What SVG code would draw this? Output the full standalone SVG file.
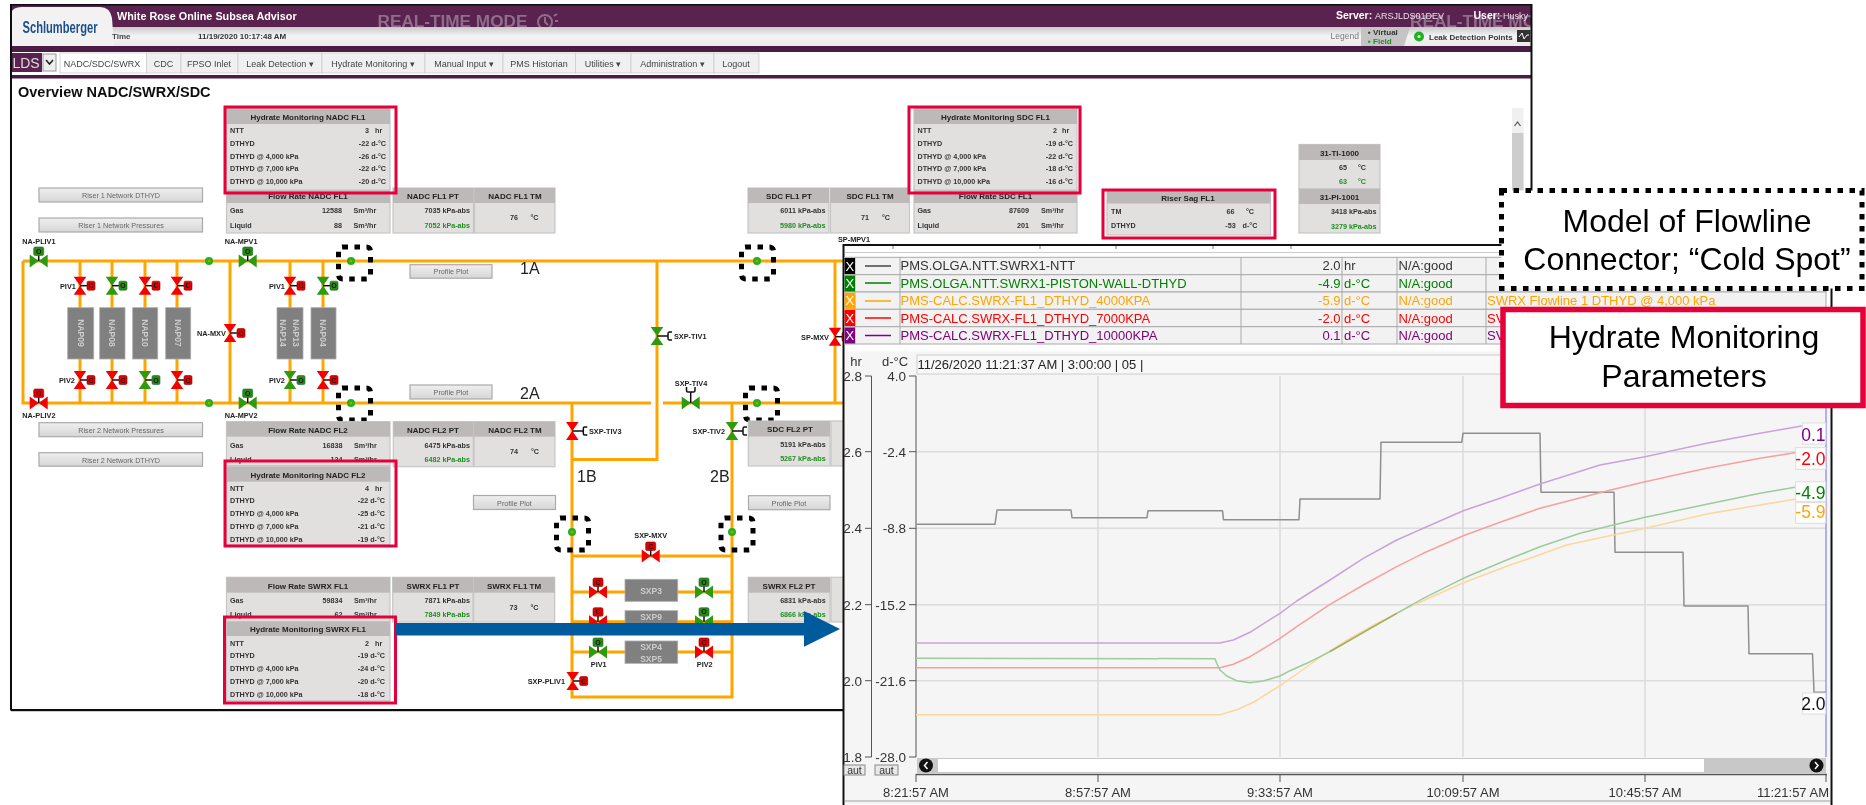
<svg xmlns="http://www.w3.org/2000/svg" width="1866" height="805" viewBox="0 0 1866 805">
<style>
text{font-family:"Liberation Sans",Arial,sans-serif}
.pipe{fill:none;stroke:#ffa500;stroke-width:3}
.dot{fill:#1fb31f}.doti{fill:#b89a00}
.cold{fill:none;stroke:#000;stroke-width:5;stroke-dasharray:5.5 6.5;stroke-linejoin:round}
.pb{fill:#e2dfdf;stroke:#c6c6c6;stroke-width:1.2}.ph{fill:#bdb9b9}
.pt{font-size:8px;font-weight:700;fill:#222;text-anchor:middle}
.pl{font-size:7.2px;font-weight:700;fill:#333}
.pr{font-size:7.2px;font-weight:700;fill:#333;text-anchor:end}
.pc{font-size:7.2px;font-weight:700;fill:#333;text-anchor:middle}
.pr.gr,.pc.gr{fill:#1f8f1f}
.frame{fill:none;stroke:#e6003a;stroke-width:3}
.btn{fill:url(#bg);stroke:#aaa;stroke-width:1.2}
.bt{font-size:7.2px;fill:#666;text-anchor:middle}
.box{fill:#808080;stroke:#aaa;stroke-width:.8}
.bx{font-size:8.5px;font-weight:700;fill:#ccc;text-anchor:middle}
.vn{font-size:7.3px;fill:#222;font-weight:700}
.vl{font-size:7px;font-weight:700;fill:#111;text-anchor:middle}
.big{font-size:16px;fill:#222}
.menu{font-size:9px;fill:#444;text-anchor:middle}
.tab{fill:#f0f0f0;stroke:#ccc;stroke-width:.8}
.row{fill:#f2f2f2;stroke:#aaa;stroke-width:1}
.t13{font-size:13px}
.ax{font-size:13.5px;fill:#333;text-anchor:end}
.tm{font-size:13px;fill:#333;text-anchor:middle}
.grid{stroke:#dcdcdc;stroke-width:1.6}
.crv{fill:none;stroke-width:1.5;stroke-linejoin:round}
.vb{fill:#fff;stroke:#ddd;stroke-width:1}
.vv{font-size:17.5px;text-anchor:end}
.call{font-size:32px;fill:#000;text-anchor:middle}
</style>
<defs>
<filter id="soft" x="0" y="0" width="100%" height="100%"><feGaussianBlur stdDeviation="0.4"/></filter>
<clipPath id="hc"><rect x="10" y="4" width="1522" height="24"/></clipPath>
<linearGradient id="bg" x1="0" y1="0" x2="0" y2="1"><stop offset="0" stop-color="#efefef"/><stop offset="1" stop-color="#d6d6d6"/></linearGradient>
<linearGradient id="hg" x1="0" y1="0" x2="0" y2="1"><stop offset="0" stop-color="#c9c9c9"/><stop offset=".45" stop-color="#f4f4f4"/><stop offset="1" stop-color="#e9e9e9"/></linearGradient>
<g id="vv-r"><path d="M-6.3-9H6.3L-6.3 9H6.3Z" fill="#f40000"/><path d="M0 0H8" stroke="#111" stroke-width="1.5"/><rect x="7" y="-4.5" width="8" height="9" rx="1.5" fill="#e00000" stroke="#800" stroke-width=".6"/></g>
<g id="vv-g"><path d="M-6.3-9H6.3L-6.3 9H6.3Z" fill="#2f9a10"/><path d="M0 0H8" stroke="#111" stroke-width="1.5"/><rect x="7" y="-4.5" width="8" height="9" rx="1.5" fill="#2c8a10" stroke="#164" stroke-width=".6"/></g>
<g id="vh-r"><path d="M-9-6.5V6.5L9-6.5V6.5Z" fill="#f40000"/><path d="M0 0V-7" stroke="#111" stroke-width="1.5"/><rect x="-5" y="-14" width="10" height="8.5" rx="1.5" fill="#e00000" stroke="#800" stroke-width=".6"/></g>
<g id="vh-g"><path d="M-9-6.5V6.5L9-6.5V6.5Z" fill="#2f9a10"/><path d="M0 0V-7" stroke="#111" stroke-width="1.5"/><rect x="-5" y="-14" width="10" height="8.5" rx="1.5" fill="#2c8a10" stroke="#164" stroke-width=".6"/></g>
<g id="cupr"><path d="M0 0H11M15-4H12.5Q11-4 11-2.5V2.5Q11 4 12.5 4H15" fill="none" stroke="#111" stroke-width="1.5"/></g>
</defs>
<rect width="1866" height="805" fill="#fff"/>

<g id="screenshot" filter="url(#soft)">
<g id="app-header">
<rect x="10" y="4" width="1522" height="24" fill="#5a2050"/>
<g clip-path="url(#hc)" fill="#8e6e8a">
<text x="377.5" y="27" font-size="17.2" font-weight="700">REAL-TIME MODE</text>
<text x="1410" y="27" font-size="17.2" font-weight="700">REAL-TIME MC</text>
</g>
<path d="M538 22a7 7 0 1 0 14 0a7 7 0 1 0 -14 0M545 17V22L548 25M554 16L557 14M555 21H558" fill="none" stroke="#8e6e8a" stroke-width="2"/>
<rect x="10" y="27" width="1522" height="20" fill="url(#hg)"/>
<rect x="10" y="46" width="1522" height="6" fill="#4d1c45"/>
<rect x="10" y="52" width="1522" height="23" fill="#fff"/>
<rect x="10" y="75" width="1522" height="3.5" fill="#4d1c45"/>
<path d="M10 46V18Q10 7 22 7H100Q110 7 112 18L114 46Z" fill="#f2f2f2"/>
<text x="22.5" y="33" font-size="16" font-weight="700" fill="#1c4f8c" textLength="75" lengthAdjust="spacingAndGlyphs">Schlumberger</text>
<text x="117" y="20" font-size="10.8" font-weight="700" fill="#fff">White Rose Online Subsea Advisor</text>
<text x="112" y="39" font-size="8" font-weight="700" fill="#444">Time</text>
<text x="198" y="39" font-size="8" font-weight="700" fill="#333">11/19/2020 10:17:48 AM</text>
<text x="1336" y="19" font-size="10.5" font-weight="700" fill="#fff">Server:</text>
<text x="1375" y="19" font-size="9" fill="#e8dce8">ARSJLDS01DEV</text>
<text x="1473.5" y="19" font-size="10.5" font-weight="700" fill="#fff">User:</text>
<text x="1503" y="19" font-size="9" fill="#e8dce8">Husky</text>
<text x="1330.5" y="39" font-size="8.5" fill="#777">Legend</text>
<path d="M1361 27H1410L1404 46H1361Z" fill="#c4c4c4"/>
<text x="1368" y="35" font-size="8" font-weight="700" fill="#333">▪ Virtual</text>
<text x="1368" y="44" font-size="8" font-weight="700" fill="#1f8f1f">▪ Field</text>
<circle cx="1419" cy="36.5" r="5" fill="#1fb31f"/><circle cx="1419" cy="36.5" r="1.5" fill="#fff"/>
<text x="1429" y="39.5" font-size="8" font-weight="700" fill="#333">Leak Detection Points</text>
<rect x="1517" y="30" width="13.5" height="12" fill="#333"/><path d="M1519 37L1522 33L1524 39L1527 35H1529" fill="none" stroke="#fff"/>
</g>

<g id="app-menu">
<rect x="10" y="53" width="32" height="19" fill="#5a2050"/><text x="26" y="68" font-size="14" fill="#ddd" text-anchor="middle">LDS</text>
<rect x="43" y="54" width="13" height="17" fill="#eee" stroke="#999"/><path d="M46 60L49.5 64L53 60" fill="none" stroke="#222" stroke-width="1.5"/>
<rect class="tab" x="60" y="53" width="86.5" height="20" style="fill:#fff"/><text class="menu" x="102" y="67">NADC/SDC/SWRX</text>
<rect class="tab" x="146.5" y="53" width="34.5" height="20"/><text class="menu" x="163.5" y="67">CDC</text>
<rect class="tab" x="181" y="53" width="57" height="20"/><text class="menu" x="209" y="67">FPSO Inlet</text>
<rect class="tab" x="238" y="53" width="84" height="20"/><text class="menu" x="280" y="67">Leak Detection ▾</text>
<rect class="tab" x="322" y="53" width="103" height="20"/><text class="menu" x="373" y="67">Hydrate Monitoring ▾</text>
<rect class="tab" x="425" y="53" width="78" height="20"/><text class="menu" x="464" y="67">Manual Input ▾</text>
<rect class="tab" x="503" y="53" width="72.5" height="20"/><text class="menu" x="539" y="67">PMS Historian</text>
<rect class="tab" x="575.5" y="53" width="55.5" height="20"/><text class="menu" x="603" y="67">Utilities ▾</text>
<rect class="tab" x="631" y="53" width="83" height="20"/><text class="menu" x="672.5" y="67">Administration ▾</text>
<rect class="tab" x="714" y="53" width="45" height="20"/><text class="menu" x="736" y="67">Logout</text>
</g>
<text id="page-title" x="18" y="96.5" font-size="14.5" font-weight="700" fill="#111">Overview NADC/SWRX/SDC</text>
<g id="scrollbar"><rect x="1512" y="108" width="11.5" height="90" fill="#f0f0f0"/><rect x="1512" y="133" width="11.5" height="65" fill="#cdcdcd"/><path d="M1514.5 126L1517.5 122L1520.5 126" fill="none" stroke="#555" stroke-width="1.2"/></g>

<g id="connectors">
<path class="pipe" d="M23 261H845M23 261V403H651M663 403H845M230 261V403M835 261V403M657 261V459.5H572M572 403V697H732V403"/>
<path class="pipe" d="M80 261V403M112 261V403M145 261V403M177 261V403M290 261V403M323 261V403"/>
<path class="pipe" d="M572 556H732M572 592H732M572 621.7H732M572 652H732"/>
</g>

<g id="node-dots">
<circle class="dot" cx="209" cy="261" r="4"/><circle class="doti" cx="209" cy="261" r="1.5"/>
<circle class="dot" cx="209" cy="403" r="4"/><circle class="doti" cx="209" cy="403" r="1.5"/>
<circle class="dot" cx="351" cy="261" r="4"/><circle class="doti" cx="351" cy="261" r="1.5"/>
<circle class="dot" cx="351" cy="403" r="4"/><circle class="doti" cx="351" cy="403" r="1.5"/>
<circle class="dot" cx="757" cy="261" r="4"/><circle class="doti" cx="757" cy="261" r="1.5"/>
<circle class="dot" cx="757" cy="403" r="4"/><circle class="doti" cx="757" cy="403" r="1.5"/>
<circle class="dot" cx="572" cy="532" r="4"/><circle class="doti" cx="572" cy="532" r="1.5"/>
<circle class="dot" cx="732" cy="532" r="4"/><circle class="doti" cx="732" cy="532" r="1.5"/>
</g>
<g id="cold-spots">
<rect class="cold" x="338.5" y="247" width="32" height="32" rx="4"/>
<rect class="cold" x="338.5" y="388" width="32" height="32" rx="4"/>
<rect class="cold" x="741.5" y="247" width="32" height="32" rx="4"/>
<rect class="cold" x="745.5" y="388" width="32" height="32" rx="4"/>
<rect class="cold" x="556.5" y="518" width="32" height="32" rx="4"/>
<rect class="cold" x="721" y="518" width="32" height="32" rx="4"/>
</g>

<g id="labels-flow">
<text class="big" x="520" y="274">1A</text><text class="big" x="520" y="399">2A</text>
<text class="big" x="577" y="481.5">1B</text><text class="big" x="710" y="481.5">2B</text>
</g>

<g id="nap-boxes">
<rect class="box" x="67.7" y="307.7" width="26" height="51.3"/><text class="bx" transform="translate(77.5 333) rotate(90)">NAP09</text>
<rect class="box" x="99.7" y="307.7" width="25.3" height="51.3"/><text class="bx" transform="translate(109.3 333) rotate(90)">NAP08</text>
<rect class="box" x="132.7" y="307.7" width="25" height="51.3"/><text class="bx" transform="translate(141.7 333) rotate(90)">NAP10</text>
<rect class="box" x="165.7" y="307.7" width="25" height="51.3"/><text class="bx" transform="translate(174.5 333) rotate(90)">NAP07</text>
<rect class="box" x="277" y="307.7" width="26" height="51.3"/><text class="bx" transform="translate(292.5 333) rotate(90)">NAP13</text><text class="bx" transform="translate(280 333) rotate(90)">NAP14</text>
<rect class="box" x="311" y="307.7" width="25" height="51.3"/><text class="bx" transform="translate(320.3 333) rotate(90)">NAP04</text>
<rect class="box" x="625" y="579.3" width="52.7" height="22"/><text class="bx" x="651" y="594">SXP3</text>
<rect class="box" x="625" y="610.7" width="52.7" height="22"/><text class="bx" x="651" y="619.5">SXP9</text>
<rect class="box" x="625" y="641" width="52.7" height="22.3"/><text class="bx" x="651" y="650">SXP4</text><text class="bx" x="651" y="662">SXP5</text>
</g>

<g id="valve-na-pliv1"><use href="#vh-g" x="38.7" y="261"/><text class="vl" x="38.7" y="253.5">O</text><text class="vn" x="22.3" y="243.5">NA-PLIV1</text></g>
<g id="valve-na-pliv2"><use href="#vh-r" x="38.7" y="403"/><text class="vl" x="38.7" y="395.5">C</text><text class="vn" x="22.3" y="418">NA-PLIV2</text></g>
<g id="valve-na-mpv1"><use href="#vh-g" x="247.7" y="261"/><text class="vl" x="247.7" y="253.5">O</text><text class="vn" x="224.7" y="243.5">NA-MPV1</text></g>
<g id="valve-na-mpv2"><use href="#vh-g" x="247.7" y="403"/><text class="vl" x="247.7" y="395.5">O</text><text class="vn" x="224.7" y="418">NA-MPV2</text></g>
<g id="valve-na-mxv"><use href="#vv-r" x="230" y="333"/><text class="vl" x="241" y="335.5">C</text><text class="vn" x="197" y="336">NA-MXV</text></g>
<g id="valve-u1"><use href="#vv-r" x="80" y="285.7"/><text class="vl" x="91" y="288.2">C</text><text class="vn" x="60" y="288.5">PIV1</text></g>
<g id="valve-u2"><use href="#vv-g" x="112" y="285.7"/><text class="vl" x="123" y="288.2">O</text></g>
<g id="valve-u3"><use href="#vv-r" x="145" y="285.7"/><text class="vl" x="156" y="288.2">C</text></g>
<g id="valve-u4"><use href="#vv-r" x="177" y="285.7"/><text class="vl" x="188" y="288.2">C</text></g>
<g id="valve-u5"><use href="#vv-r" x="290" y="285.7"/><text class="vl" x="301" y="288.2">C</text><text class="vn" x="269" y="288.5">PIV1</text></g>
<g id="valve-u6"><use href="#vv-g" x="323" y="285.7"/><text class="vl" x="334" y="288.2">O</text></g>
<g id="valve-l1"><use href="#vv-r" x="80" y="380"/><text class="vl" x="91" y="382.5">C</text><text class="vn" x="59" y="383">PIV2</text></g>
<g id="valve-l2"><use href="#vv-r" x="112" y="380"/><text class="vl" x="123" y="382.5">C</text></g>
<g id="valve-l3"><use href="#vv-g" x="145" y="380"/><text class="vl" x="156" y="382.5">O</text></g>
<g id="valve-l4"><use href="#vv-r" x="177" y="380"/><text class="vl" x="188" y="382.5">C</text></g>
<g id="valve-l5"><use href="#vv-g" x="290" y="380"/><text class="vl" x="301" y="382.5">O</text><text class="vn" x="269" y="383">PIV2</text></g>
<g id="valve-l6"><use href="#vv-r" x="323" y="380"/><text class="vl" x="334" y="382.5">C</text></g>
<g id="valve-sxp-tiv1"><path d="M650.7 327H663.3L650.7 345H663.3Z" fill="#2f9a10"/><use href="#cupr" x="657" y="336"/><text class="vn" x="674" y="338.5">SXP-TIV1</text></g>
<g id="valve-sxp-tiv3"><path d="M566 422H578.6L566 440H578.6Z" fill="#f40000"/><use href="#cupr" x="572.3" y="431"/><text class="vn" x="589" y="433.5">SXP-TIV3</text></g>
<g id="valve-sxp-tiv2"><path d="M725.7 422H738.3L725.7 440H738.3Z" fill="#2f9a10"/><use href="#cupr" x="732" y="431"/><text class="vn" x="725" y="433.5" text-anchor="end">SXP-TIV2</text></g>
<g id="valve-sxp-tiv4"><path d="M681.7 396.5V409.5L699.7 396.5V409.5Z" fill="#2f9a10"/><path d="M690.7 403V392M686.5 387V390.5Q686.5 392 688 392H693.5Q695 392 695 390.5V387" fill="none" stroke="#111" stroke-width="1.5"/><text class="vn" x="691" y="386" text-anchor="middle">SXP-TIV4</text></g>
<g id="valve-sp-mxv"><use href="#vv-r" x="835" y="336.7"/><text class="vn" x="829" y="339.5" text-anchor="end">SP-MXV</text></g>
<text id="label-sp-mpv1" class="vn" x="838" y="242">SP-MPV1</text>
<g id="valve-sxp-mxv"><use href="#vh-r" x="650.7" y="556"/><text class="vl" x="650.7" y="548.5">C</text><text class="vn" x="650.7" y="537.5" text-anchor="middle">SXP-MXV</text></g>
<g id="valve-s1"><use href="#vh-r" x="598" y="592"/><text class="vl" x="598" y="584.5">C</text></g>
<g id="valve-s2"><use href="#vh-g" x="704" y="592"/><text class="vl" x="704" y="584.5">O</text></g>
<g id="valve-s3"><use href="#vh-r" x="598" y="621.7"/><text class="vl" x="598" y="614.2">C</text></g>
<g id="valve-s4"><use href="#vh-g" x="704" y="621.7"/><text class="vl" x="704" y="614.2">O</text></g>
<g id="valve-s5"><use href="#vh-g" x="598" y="652"/><text class="vl" x="598" y="644.5">O</text><text class="vn" x="598.7" y="666.5" text-anchor="middle">PIV1</text></g>
<g id="valve-s6"><use href="#vh-r" x="704" y="652"/><text class="vl" x="704" y="644.5">C</text><text class="vn" x="704.7" y="666.5" text-anchor="middle">PIV2</text></g>
<g id="valve-sxp-pliv1"><use href="#vv-r" x="572.7" y="681"/><text class="vl" x="583.7" y="683.5">C</text><text class="vn" x="565" y="683.5" text-anchor="end">SXP-PLIV1</text></g>

<g id="buttons">
<rect class="btn" x="39" y="188" width="163.5" height="14"/><text class="bt" x="121" y="198">Riser 1 Network DTHYD</text>
<rect class="btn" x="39" y="218" width="163.5" height="14"/><text class="bt" x="121" y="228">Riser 1 Network Pressures</text>
<rect class="btn" x="39" y="422.7" width="163.5" height="14"/><text class="bt" x="121" y="432.5">Riser 2 Network Pressures</text>
<rect class="btn" x="39" y="452.7" width="163.5" height="13.5"/><text class="bt" x="121" y="462.5">Riser 2 Network DTHYD</text>
<rect class="btn" x="410" y="264.7" width="82" height="13.5"/><text class="bt" x="451" y="274">Profile Plot</text>
<rect class="btn" x="410" y="385" width="82" height="14"/><text class="bt" x="451" y="395">Profile Plot</text>
<rect class="btn" x="473.5" y="495.5" width="82" height="14"/><text class="bt" x="514.5" y="505.5">Profile Plot</text>
<rect class="btn" x="748.5" y="495.7" width="81.5" height="14"/><text class="bt" x="789" y="505.7">Profile Plot</text>
</g>

<g id="flow-nadc-fl1">
<rect class="pb" x="226.5" y="188" width="163.5" height="45"/><rect class="ph" x="226.5" y="188" width="163.5" height="15"/>
<text class="pt" x="308" y="199">Flow Rate NADC FL1</text>
<text class="pl" x="230" y="213">Gas</text><text class="pr" x="342" y="213">12588</text><text class="pl" x="353.5" y="213">Sm³/hr</text>
<text class="pl" x="230" y="228">Liquid</text><text class="pr" x="342" y="228">88</text><text class="pl" x="353.5" y="228">Sm³/hr</text>
</g>
<g id="pt-nadc-fl1">
<rect class="pb" x="393" y="188" width="80.5" height="45"/><rect class="ph" x="393" y="188" width="80.5" height="15"/>
<text class="pt" x="433" y="199">NADC FL1 PT</text>
<text class="pr" x="470" y="213">7035 kPa-abs</text><text class="pr gr" x="470" y="228">7052 kPa-abs</text>
</g>
<g id="tm-nadc-fl1">
<rect class="pb" x="474.5" y="188" width="80.5" height="45"/><rect class="ph" x="474.5" y="188" width="80.5" height="15"/>
<text class="pt" x="515" y="199">NADC FL1 TM</text>
<text class="pc" x="514" y="220">76</text><text class="pc" x="534.5" y="220">°C</text>
</g>
<g id="hyd-nadc-fl1">
<rect class="pb" x="226.5" y="108" width="163.5" height="82"/><rect class="ph" x="226.5" y="108" width="163.5" height="16"/>
<text class="pt" x="308" y="120">Hydrate Monitoring NADC FL1</text>
<text class="pl" x="230" y="133">NTT</text><text class="pc" x="367" y="133">3</text><text class="pl" x="375" y="133">hr</text>
<text class="pl" x="230" y="146">DTHYD</text><text class="pr" x="386" y="146">-22 d-°C</text>
<text class="pl" x="230" y="159">DTHYD @ 4,000 kPa</text><text class="pr" x="386" y="159">-26 d-°C</text>
<text class="pl" x="230" y="171">DTHYD @ 7,000 kPa</text><text class="pr" x="386" y="171">-22 d-°C</text>
<text class="pl" x="230" y="184">DTHYD @ 10,000 kPa</text><text class="pr" x="386" y="184">-20 d-°C</text>
<rect class="frame" x="225" y="107" width="171" height="86"/>
</g>

<g id="pt-sdc-fl1">
<rect class="pb" x="748" y="188" width="81" height="45"/><rect class="ph" x="748" y="188" width="81" height="15"/>
<text class="pt" x="789" y="199">SDC FL1 PT</text>
<text class="pr" x="825.5" y="213">6011 kPa-abs</text><text class="pr gr" x="825.5" y="228">5980 kPa-abs</text>
</g>
<g id="tm-sdc-fl1">
<rect class="pb" x="830.5" y="188" width="79" height="45"/><rect class="ph" x="830.5" y="188" width="79" height="15"/>
<text class="pt" x="870" y="199">SDC FL1 TM</text>
<text class="pc" x="865" y="220">71</text><text class="pc" x="886" y="220">°C</text>
</g>
<g id="flow-sdc-fl1">
<rect class="pb" x="914" y="188" width="163" height="45"/><rect class="ph" x="914" y="188" width="163" height="15"/>
<text class="pt" x="995.5" y="199">Flow Rate SDC FL1</text>
<text class="pl" x="917.5" y="213">Gas</text><text class="pr" x="1029" y="213">87609</text><text class="pl" x="1041" y="213">Sm³/hr</text>
<text class="pl" x="917.5" y="228">Liquid</text><text class="pr" x="1029" y="228">201</text><text class="pl" x="1041" y="228">Sm³/hr</text>
</g>
<g id="hyd-sdc-fl1">
<rect class="pb" x="914" y="108" width="163" height="82"/><rect class="ph" x="914" y="108" width="163" height="16"/>
<text class="pt" x="995.5" y="120">Hydrate Monitoring SDC FL1</text>
<text class="pl" x="917.5" y="133">NTT</text><text class="pc" x="1055" y="133">2</text><text class="pl" x="1062" y="133">hr</text>
<text class="pl" x="917.5" y="146">DTHYD</text><text class="pr" x="1073" y="146">-19 d-°C</text>
<text class="pl" x="917.5" y="159">DTHYD @ 4,000 kPa</text><text class="pr" x="1073" y="159">-22 d-°C</text>
<text class="pl" x="917.5" y="171">DTHYD @ 7,000 kPa</text><text class="pr" x="1073" y="171">-18 d-°C</text>
<text class="pl" x="917.5" y="184">DTHYD @ 10,000 kPa</text><text class="pr" x="1073" y="184">-16 d-°C</text>
<rect class="frame" x="909" y="107" width="171" height="86"/>
</g>
<g id="riser-sag-fl1">
<rect class="pb" x="1107" y="191.5" width="163.5" height="43.5"/><rect class="ph" x="1107" y="191.5" width="163.5" height="12"/>
<text class="pt" x="1188" y="201">Riser Sag FL1</text>
<text class="pl" x="1111" y="213.5">TM</text><text class="pc" x="1230.5" y="213.5">66</text><text class="pc" x="1250" y="213.5">°C</text>
<text class="pl" x="1111" y="228">DTHYD</text><text class="pc" x="1230.5" y="228">-53</text><text class="pc" x="1250" y="228">d-°C</text>
<rect class="frame" x="1103" y="190" width="172" height="48"/>
</g>
<g id="ti-1000">
<rect class="pb" x="1299" y="144.5" width="81" height="44.5"/><rect class="ph" x="1299" y="144.5" width="81" height="15.5"/>
<text class="pt" x="1339.5" y="155.5">31-TI-1000</text>
<text class="pc" x="1343" y="169.5">65</text><text class="pc" x="1362" y="169.5">°C</text>
<text class="pc gr" x="1343" y="184">63</text><text class="pc gr" x="1362" y="184">°C</text>
</g>
<g id="pi-1001">
<rect class="pb" x="1299" y="189" width="81" height="44"/><rect class="ph" x="1299" y="189" width="81" height="15"/>
<text class="pt" x="1339.5" y="200">31-PI-1001</text>
<text class="pr" x="1376.5" y="214">3418 kPa-abs</text><text class="pr gr" x="1376.5" y="228.5">3279 kPa-abs</text>
</g>

<g id="flow-nadc-fl2">
<rect class="pb" x="226.5" y="421.7" width="163.5" height="44"/><rect class="ph" x="226.5" y="421.7" width="163.5" height="15"/>
<text class="pt" x="308" y="432.7">Flow Rate NADC FL2</text>
<text class="pl" x="230" y="447.5">Gas</text><text class="pr" x="342.5" y="447.5">16838</text><text class="pl" x="354" y="447.5">Sm³/hr</text>
<text class="pl" x="230" y="462">Liquid</text><text class="pr" x="342.5" y="462">124</text><text class="pl" x="354" y="462">Sm³/hr</text>
</g>
<g id="pt-nadc-fl2">
<rect class="pb" x="393.3" y="421.7" width="80" height="45"/><rect class="ph" x="393.3" y="421.7" width="80" height="15"/>
<text class="pt" x="433" y="432.7">NADC FL2 PT</text>
<text class="pr" x="470" y="447.5">6475 kPa-abs</text><text class="pr gr" x="470" y="462">6482 kPa-abs</text>
</g>
<g id="tm-nadc-fl2">
<rect class="pb" x="474" y="421.7" width="81" height="45"/><rect class="ph" x="474" y="421.7" width="81" height="15"/>
<text class="pt" x="515" y="432.7">NADC FL2 TM</text>
<text class="pc" x="514" y="454">74</text><text class="pc" x="535" y="454">°C</text>
</g>
<g id="hyd-nadc-fl2">
<rect class="pb" x="226.5" y="466.7" width="163.5" height="78.3"/><rect class="ph" x="226.5" y="466.7" width="163.5" height="15"/>
<text class="pt" x="308" y="477.5">Hydrate Monitoring NADC FL2</text>
<text class="pl" x="230" y="490.7">NTT</text><text class="pc" x="367" y="490.7">4</text><text class="pl" x="375" y="490.7">hr</text>
<text class="pl" x="230" y="503.3">DTHYD</text><text class="pr" x="385" y="503.3">-22 d-°C</text>
<text class="pl" x="230" y="516.3">DTHYD @ 4,000 kPa</text><text class="pr" x="385" y="516.3">-25 d-°C</text>
<text class="pl" x="230" y="529">DTHYD @ 7,000 kPa</text><text class="pr" x="385" y="529">-21 d-°C</text>
<text class="pl" x="230" y="542">DTHYD @ 10,000 kPa</text><text class="pr" x="385" y="542">-19 d-°C</text>
<rect class="frame" x="225" y="461" width="171" height="85"/>
</g>
<g id="pt-sdc-fl2">
<rect class="pb" x="748.3" y="421" width="81.7" height="45"/><rect class="ph" x="748.3" y="421" width="81.7" height="15.5"/>
<text class="pt" x="790" y="432">SDC FL2 PT</text>
<text class="pr" x="825.7" y="446.5">5191 kPa-abs</text><text class="pr gr" x="825.7" y="461">5267 kPa-abs</text>
</g>
<rect id="tm-sdc-fl2" class="pb" x="831" y="421" width="15" height="45"/>

<g id="flow-swrx-fl1">
<rect class="pb" x="226.5" y="577.3" width="163.5" height="44.5"/><rect class="ph" x="226.5" y="577.3" width="163.5" height="15.4"/>
<text class="pt" x="308" y="588.5">Flow Rate SWRX FL1</text>
<text class="pl" x="230" y="602.5">Gas</text><text class="pr" x="342.5" y="602.5">59834</text><text class="pl" x="354" y="602.5">Sm³/hr</text>
<text class="pl" x="230" y="617">Liquid</text><text class="pr" x="342.5" y="617">62</text><text class="pl" x="354" y="617">Sm³/hr</text>
</g>
<g id="pt-swrx-fl1">
<rect class="pb" x="392.7" y="577.3" width="80.3" height="44.7"/><rect class="ph" x="392.7" y="577.3" width="80.3" height="15.4"/>
<text class="pt" x="433" y="588.5">SWRX FL1 PT</text>
<text class="pr" x="470" y="603">7871 kPa-abs</text><text class="pr gr" x="470" y="617">7849 kPa-abs</text>
</g>
<g id="tm-swrx-fl1">
<rect class="pb" x="473.7" y="577.3" width="81" height="44.7"/><rect class="ph" x="473.7" y="577.3" width="81" height="15.4"/>
<text class="pt" x="514" y="588.5">SWRX FL1 TM</text>
<text class="pc" x="513.5" y="609.5">73</text><text class="pc" x="534.5" y="609.5">°C</text>
</g>
<g id="hyd-swrx-fl1">
<rect class="pb" x="226.5" y="621.7" width="163.5" height="79"/><rect class="ph" x="226.5" y="621.7" width="163.5" height="14.3"/>
<text class="pt" x="308" y="632">Hydrate Monitoring SWRX FL1</text>
<text class="pl" x="230" y="645.7">NTT</text><text class="pc" x="367" y="645.7">2</text><text class="pl" x="375" y="645.7">hr</text>
<text class="pl" x="230" y="658.3">DTHYD</text><text class="pr" x="385" y="658.3">-19 d-°C</text>
<text class="pl" x="230" y="671.3">DTHYD @ 4,000 kPa</text><text class="pr" x="385" y="671.3">-24 d-°C</text>
<text class="pl" x="230" y="684">DTHYD @ 7,000 kPa</text><text class="pr" x="385" y="684">-20 d-°C</text>
<text class="pl" x="230" y="696.7">DTHYD @ 10,000 kPa</text><text class="pr" x="385" y="696.7">-18 d-°C</text>
<rect class="frame" x="224.5" y="617" width="171" height="86"/>
</g>
<g id="pt-swrx-fl2">
<rect class="pb" x="748.3" y="577.3" width="81.7" height="44.7"/><rect class="ph" x="748.3" y="577.3" width="81.7" height="15.4"/>
<text class="pt" x="789" y="588.5">SWRX FL2 PT</text>
<text class="pr" x="825.7" y="603">6831 kPa-abs</text><text class="pr gr" x="825.7" y="617">6866 kPa-abs</text>
</g>
<rect id="tm-swrx-fl2" class="pb" x="831" y="577.3" width="15" height="44.7"/>

<path id="window-frame" d="M11 710.5V4.5H1531.5V200M11 710H845" fill="none" stroke="#111" stroke-width="2"/>
<path id="window-frame-low" d="M11 712H845" fill="none" stroke="#999" stroke-width="1"/>
</g>

<polygon id="arrow" points="395.7,623 804,623 804,611 840,629 804,646.7 804,635.5 395.7,635.5" fill="#005a9e"/>

<g id="chart-panel">
<rect x="843.5" y="245" width="988" height="570" fill="#fff" stroke="#111" stroke-width="2"/>
<path d="M893 246V249M1040 246V249M1116 246V249M1213 246V249M1291 246V249" stroke="#777"/>
<path d="M845 252.5H1830" stroke="#ccc"/>
<rect x="845" y="351.5" width="985" height="453" fill="#f5f5f5"/>
<path d="M845 801H1830" stroke="#bbb" stroke-width="1.5"/>

<g id="trend-table">
<rect class="row" x="844.5" y="257.3" width="981.5" height="17.4"/>
<rect class="row" x="844.5" y="274.7" width="981.5" height="17.3"/>
<rect class="row" x="844.5" y="292" width="981.5" height="17.3"/>
<rect class="row" x="844.5" y="309.3" width="981.5" height="17.4"/>
<rect class="row" x="844.5" y="326.7" width="981.5" height="17.3"/>
<path d="M855 257V344M900 257V344M1241 257V344M1342 257V344M1397 257V344M1486 257V344" stroke="#aaa" fill="none"/>
<rect x="844.5" y="258" width="10.5" height="16" fill="#000"/><rect x="844.5" y="275.5" width="10.5" height="16" fill="#008000"/><rect x="844.5" y="292.8" width="10.5" height="16" fill="#ffa500"/><rect x="844.5" y="310" width="10.5" height="16" fill="#f00"/><rect x="844.5" y="327.5" width="10.5" height="16" fill="#800080"/>
<text class="t13" x="845.5" y="270.5" fill="#fff">X</text><text class="t13" x="845.5" y="288" fill="#fff">X</text><text class="t13" x="845.5" y="305" fill="#fff">X</text><text class="t13" x="845.5" y="322.5" fill="#fff">X</text><text class="t13" x="845.5" y="340" fill="#fff">X</text>
<path d="M865 266H891" stroke="#444" stroke-width="1.5"/><path d="M865 283H891" stroke="#008000" stroke-width="1.5"/><path d="M865 301H891" stroke="#ffa500" stroke-width="1.5"/><path d="M865 318H891" stroke="#f00" stroke-width="1.5"/><path d="M865 335.5H891" stroke="#800080" stroke-width="1.5"/>
<g class="t13" fill="#333"><text x="900.5" y="270">PMS.OLGA.NTT.SWRX1-NTT</text><text x="1340.5" y="270" text-anchor="end">2.0</text><text x="1344" y="270">hr</text><text x="1398.5" y="270">N/A:good</text></g>
<g class="t13" fill="#008000"><text x="900.5" y="287.5">PMS.OLGA.NTT.SWRX1-PISTON-WALL-DTHYD</text><text x="1340.5" y="287.5" text-anchor="end">-4.9</text><text x="1344" y="287.5">d-°C</text><text x="1398.5" y="287.5">N/A:good</text></g>
<g class="t13" fill="#ffa500"><text x="900.5" y="305">PMS-CALC.SWRX-FL1_DTHYD_4000KPA</text><text x="1340.5" y="305" text-anchor="end">-5.9</text><text x="1344" y="305">d-°C</text><text x="1398.5" y="305">N/A:good</text><text x="1487" y="305">SWRX Flowline 1 DTHYD @ 4,000 kPa</text></g>
<g class="t13" fill="#f00"><text x="900.5" y="322.5">PMS-CALC.SWRX-FL1_DTHYD_7000KPA</text><text x="1340.5" y="322.5" text-anchor="end">-2.0</text><text x="1344" y="322.5">d-°C</text><text x="1398.5" y="322.5">N/A:good</text><text x="1487" y="322.5">SV</text></g>
<g class="t13" fill="#800080"><text x="900.5" y="340">PMS-CALC.SWRX-FL1_DTHYD_10000KPA</text><text x="1340.5" y="340" text-anchor="end">0.1</text><text x="1344" y="340">d-°C</text><text x="1398.5" y="340">N/A:good</text><text x="1487" y="340">SV</text></g>
</g>

<g id="trend-chart">
<text x="856" y="365.5" font-size="13" fill="#333" text-anchor="middle">hr</text><text x="895" y="365.5" font-size="13" fill="#333" text-anchor="middle">d-°C</text>
<rect x="917" y="355" width="905" height="19" fill="#f8f8f8" stroke="#ccc"/>
<text x="917.5" y="369" font-size="13" fill="#222">11/26/2020 11:21:37 AM | 3:00:00 | 05 |</text>
<path class="grid" d="M916 451.7H1826M916 528.3H1826M916 604.7H1826M916 680.7H1826M1098 376V757M1280 376V757M1463 376V757M1645 376V757" fill="none"/>
<path d="M871.5 376V757M916 376V757" stroke="#555" fill="none"/>
<path d="M865 376H871.5M865 451.7H871.5M865 528.3H871.5M865 604.7H871.5M865 680.7H871.5M865 757H871.5M909 376H916M909 451.7H916M909 528.3H916M909 604.7H916M909 680.7H916M909 757H916" stroke="#555" fill="none"/>
<text class="ax" x="862" y="380.5">2.8</text><text class="ax" x="862" y="456.5">2.6</text><text class="ax" x="862" y="533">2.4</text><text class="ax" x="862" y="609.5">2.2</text><text class="ax" x="862" y="685.5">2.0</text><text class="ax" x="862" y="761.5">1.8</text>
<text class="ax" x="906" y="380.5">4.0</text><text class="ax" x="906" y="456.5">-2.4</text><text class="ax" x="906" y="533">-8.8</text><text class="ax" x="906" y="609.5">-15.2</text><text class="ax" x="906" y="685.5">-21.6</text><text class="ax" x="906" y="761.5">-28.0</text>
<polyline class="crv" stroke="#8f8f8f" points="916,524.3 995,524.3 997,510 1071,510 1072,517.7 1147,517.7 1148,510.7 1222.500,510.7 1223.500,519.7 1299,519.7 1300,499 1380,499 1381,442.3 1461.700,442.3 1463,433.3 1540,433.3 1541,492.3 1614,492.3 1615,552.3 1683,552.3 1684,606 1748,606 1749,653.7 1812.500,653.7 1814,692.3 1826,692.3"/>
<polyline class="crv" stroke="#c9a3d9" points="916,643 1220,643 1233.3,640 1250,632.3 1266.7,621.7 1280,613.3 1296.7,601 1330,580 1363.3,558.3 1396.7,540 1423.3,528.3 1463.3,510.7 1500,498.300 1540,484 1600,465 1645,456.7 1706.7,443.3 1760,433.3 1801.7,426"/>
<polyline class="crv" stroke="#f6a0a0" points="916,667.7 1220,667.7 1233.3,664.3 1250,656.7 1266.7,646.7 1280,638.3 1296.7,626.7 1330,604.3 1363.3,585 1396.7,566.7 1423.3,553.3 1463.3,535.7 1500,522.3 1540,508.3 1606.7,491 1645,481.7 1706.7,468.3 1760,458.3 1795,452.7"/>
<polyline class="crv" stroke="#fbd79c" points="916,714.7 1220,714.7 1238.3,709.3 1253.3,702.3 1266.7,694 1280,685.7 1296.7,674 1323.3,655 1350,638.3 1376.7,623.3 1410,606.7 1423.3,600.7 1463.3,582.7 1510,565 1525,560 1566.7,545 1613.3,535 1645,528.3 1706.7,514 1760,505 1795,499.3"/>
<polyline class="crv" stroke="#9ccb9c" points="916,658.3 1215,658.7 1216.7,663.3 1220,670 1226.7,676 1236.7,680.7 1250,682.7 1263.3,681 1280,676 1290,670.7 1306.7,663.3 1330,651.7 1363.3,632.3 1396.7,613.3 1423.3,598.3 1463.3,578.3 1506.7,560 1540,546.7 1580,533.3 1613.3,525 1645,517.3 1706.7,504.3 1760,493.3 1795,487.3"/>
<polyline class="crv" stroke="#a9b060" points="1330,651.7 1363.3,632.3 1396.7,613.3"/>
<path d="M1826 376V757" stroke="#6a6aee"/>
<rect class="vb" x="1802.7" y="423" width="23" height="21"/><text class="vv" x="1825.5" y="440.7" fill="#800080">0.1</text>
<rect class="vb" x="1795.7" y="447.7" width="30" height="21.600"/><text class="vv" x="1825.5" y="465" fill="#f00">-2.0</text>
<rect class="vb" x="1795.7" y="481.7" width="30" height="20"/><text class="vv" x="1825.5" y="499.3" fill="#008000">-4.9</text>
<rect class="vb" x="1795.7" y="502.700" width="30" height="20.6"/><text class="vv" x="1825.5" y="518.3" fill="#ffa500">-5.9</text>
<rect class="vb" x="1802.7" y="693" width="23" height="21"/><text class="vv" x="1825.5" y="709.5" fill="#111">2.0</text>
<rect x="917" y="758" width="909" height="15" fill="#c8c8c8"/><rect x="938" y="759" width="766" height="13" fill="#fff"/>
<circle cx="926" cy="765.5" r="7" fill="#111"/><circle cx="1816.5" cy="765.5" r="7" fill="#111"/>
<path d="M927.5 762L924.5 765.5L927.5 769" fill="none" stroke="#fff" stroke-width="1.5"/><path d="M1815 762L1818 765.500L1815 769" fill="none" stroke="#fff" stroke-width="1.5"/>
<rect x="844" y="765" width="21" height="10" fill="#e8e8e8" stroke="#888"/><text x="854.5" y="774" font-size="10.5" fill="#333" text-anchor="middle">aut</text>
<rect x="875" y="765" width="23" height="10" fill="#e8e8e8" stroke="#888"/><text x="886.5" y="774" font-size="10.5" fill="#333" text-anchor="middle">aut</text>
<path d="M916 774.5H1827" stroke="#555" stroke-width="1.5"/>
<path d="M916 774V782M1098 774V782M1280 774V782M1463 774V782M1645 774V782M1826 774V782" stroke="#555"/>
<text class="tm" x="916" y="797">8:21:57 AM</text><text class="tm" x="1098" y="797">8:57:57 AM</text><text class="tm" x="1280" y="797">9:33:57 AM</text><text class="tm" x="1463" y="797">10:09:57 AM</text><text class="tm" x="1645" y="797">10:45:57 AM</text><text class="tm" x="1829" y="797" style="text-anchor:end">11:21:57 AM</text>
</g>
</g>

<g id="callout-cold-spot">
<rect x="1501.5" y="190.5" width="360.5" height="98" fill="#fff" stroke="#000" stroke-width="5" stroke-dasharray="5.5 6.5"/>
<text class="call" x="1687" y="231.5">Model of Flowline</text>
<text class="call" x="1687" y="270">Connector; “Cold Spot”</text>
</g>
<g id="callout-hydrate">
<rect x="1503" y="309.5" width="360" height="96" fill="#fff" stroke="#e6003a" stroke-width="5.5"/>
<text class="call" x="1684" y="348">Hydrate Monitoring</text>
<text class="call" x="1684" y="386.5">Parameters</text>
</g>
</svg>
